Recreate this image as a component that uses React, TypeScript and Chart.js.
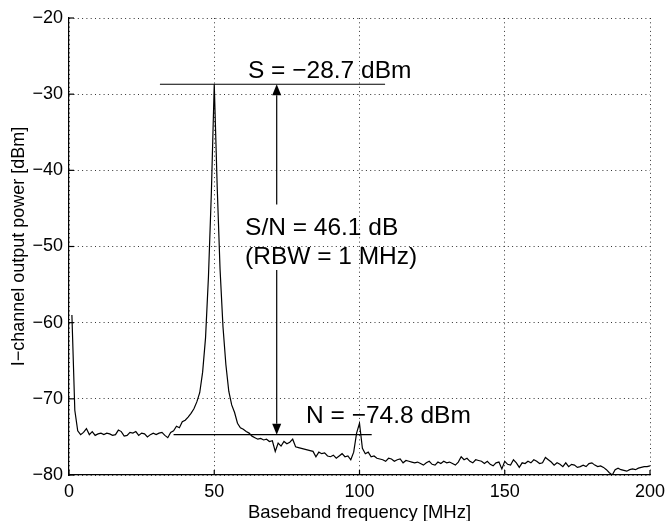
import React, { useEffect, useRef } from "react";
import { Chart, registerables } from "chart.js";

Chart.register(...registerables);

// Spectrum samples, one per MHz, starting at 1 MHz
const FREQ_START_MHZ = 1;
const FREQ_STEP_MHZ = 1;
const powerDbm: number[] = [
  -59.0, -71.5, -74.2, -74.7, -74.4, -73.9, -74.7, -74.3, -74.8, -74.6,
  -74.5, -74.7, -74.5, -74.6, -74.8, -74.7, -74.1, -74.3, -74.9, -74.8,
  -74.4, -74.5, -74.3, -74.8, -74.5, -74.6, -75.0, -74.7, -74.5, -74.7,
  -74.5, -74.4, -74.8, -75.1, -74.4, -74.2, -73.6, -73.8, -73.0, -72.8,
  -72.4, -71.9, -71.3, -70.4, -69.2, -66.5, -62.0, -54.0, -43.0, -28.7,
  -42.0, -53.0, -60.5, -65.5, -69.0, -70.8, -71.8, -73.2, -73.8, -74.0,
  -74.3, -74.5, -74.9, -75.1, -75.3, -75.2, -75.4, -75.3, -75.6, -75.5,
  -76.9, -75.8, -76.2, -75.6, -75.9, -75.7, -75.3, -76.3, -76.4, -76.5,
  -76.6, -76.7, -76.8, -76.9, -77.6, -77.0, -77.2, -77.1, -77.5, -77.6,
  -77.4, -77.8, -77.5, -77.2, -77.6, -77.5, -78.0, -77.0, -74.5, -73.2,
  -76.5, -77.2, -77.0, -77.6, -77.5, -77.8, -77.9, -78.0, -78.2, -77.8,
  -77.9, -78.2, -78.0, -77.9, -78.4, -78.1, -78.2, -78.3, -78.4, -78.3,
  -78.5, -78.7, -78.4, -78.2, -78.6, -78.7, -78.3, -78.5, -78.2, -78.4,
  -78.3, -78.5, -78.7, -78.3, -77.6, -78.0, -77.8, -78.2, -78.4, -78.0,
  -78.1, -78.2, -78.5, -78.2, -78.6, -78.8, -78.4, -78.3, -79.2, -78.2,
  -78.6, -78.7, -78.0, -78.4, -79.0, -78.4, -78.5, -78.2, -78.4, -78.0,
  -78.2, -78.5, -78.4, -77.7, -78.0, -78.3, -78.7, -78.4, -78.6, -78.9,
  -78.4, -78.9, -78.6, -78.7, -79.0, -78.9, -78.7, -78.9, -78.5, -78.4,
  -78.7, -78.9, -78.8, -79.0, -79.3, -79.7, -80.0, -79.3, -79.1, -79.3,
  -79.4, -79.5, -79.3, -79.2, -79.3, -79.1, -79.0, -78.9, -78.9, -78.8,
];

const xTicks = [0, 50, 100, 150, 200];
const yTicks = [-80, -70, -60, -50, -40, -30, -20];

// Annotation values (data units)
const signalDbm = -28.7;
const noiseLineDbm = -74.7;
const signalLineFreq = [31.3, 108.8];
const noiseLineFreq = [36, 104.2];
const arrowFreq = 71.5;
const arrowGapDbm = [-44.5, -53.1];
const sLabel = { text: "S = \u221228.7 dBm", x: 61.6, y: -27.9 };
const snLabel = { text: "S/N = 46.1 dB", x: 60.6, y: -48.5 };
const rbwLabel = { text: "(RBW = 1 MHz)", x: 60.6, y: -52.3 };
const nLabel = { text: "N = \u221274.8 dBm", x: 81.6, y: -73.15 };

const FONT = '"Liberation Sans", Arial, Helvetica, sans-serif';

const annotationPlugin = {
  id: "snAnnotations",
  afterDraw(chart: any) {
    const { ctx, scales, chartArea } = chart;
    const x = scales.x;
    const y = scales.y;
    ctx.save();
    ctx.strokeStyle = "#000";
    ctx.fillStyle = "#000";
    ctx.lineWidth = 1.2;
    ctx.setLineDash([]);

    // inward tick marks
    const tl = 5;
    for (const v of xTicks) {
      const px = x.getPixelForValue(v);
      ctx.beginPath();
      ctx.moveTo(px, chartArea.bottom);
      ctx.lineTo(px, chartArea.bottom - tl);
      ctx.stroke();
    }
    for (const v of yTicks) {
      const py = y.getPixelForValue(v);
      ctx.beginPath();
      ctx.moveTo(chartArea.left, py);
      ctx.lineTo(chartArea.left + tl, py);
      ctx.stroke();
    }

    const hline = (f0: number, f1: number, v: number) => {
      const py = y.getPixelForValue(v);
      ctx.beginPath();
      ctx.moveTo(x.getPixelForValue(f0), py);
      ctx.lineTo(x.getPixelForValue(f1), py);
      ctx.stroke();
    };
    hline(signalLineFreq[0], signalLineFreq[1], signalDbm);
    hline(noiseLineFreq[0], noiseLineFreq[1], noiseLineDbm);

    // arrow
    const ax = x.getPixelForValue(arrowFreq);
    const yS = y.getPixelForValue(signalDbm);
    const yN = y.getPixelForValue(noiseLineDbm);
    const g0 = y.getPixelForValue(arrowGapDbm[0]);
    const g1 = y.getPixelForValue(arrowGapDbm[1]);
    const headH = 11;
    const headW = 4.5;
    ctx.beginPath();
    ctx.moveTo(ax, yS + headH);
    ctx.lineTo(ax, g0);
    ctx.moveTo(ax, g1);
    ctx.lineTo(ax, yN - headH);
    ctx.stroke();
    ctx.beginPath();
    ctx.moveTo(ax, yS);
    ctx.lineTo(ax - headW, yS + headH);
    ctx.lineTo(ax + headW, yS + headH);
    ctx.closePath();
    ctx.fill();
    ctx.beginPath();
    ctx.moveTo(ax, yN);
    ctx.lineTo(ax - headW, yN - headH);
    ctx.lineTo(ax + headW, yN - headH);
    ctx.closePath();
    ctx.fill();

    // labels
    ctx.font = `24.5px ${FONT}`;
    ctx.textAlign = "left";
    ctx.textBaseline = "alphabetic";
    for (const l of [sLabel, snLabel, rbwLabel, nLabel]) {
      ctx.fillText(l.text, x.getPixelForValue(l.x), y.getPixelForValue(l.y));
    }
    ctx.restore();
  },
};

export default function App() {
  const canvasRef = useRef<HTMLCanvasElement | null>(null);

  useEffect(() => {
    const canvas = canvasRef.current;
    if (!canvas) return;
    const data = powerDbm.map((v, i) => ({
      x: FREQ_START_MHZ + i * FREQ_STEP_MHZ,
      y: v,
    }));
    const chart = new Chart(canvas, {
      type: "line",
      data: {
        datasets: [
          {
            data,
            borderColor: "#000",
            borderWidth: 1.2,
            pointRadius: 0,
            tension: 0,
            fill: false,
          },
        ],
      },
      plugins: [annotationPlugin],
      options: {
        animation: false,
        responsive: false,
        devicePixelRatio: 1,
        layout: { padding: { top: 18, right: 17, left: 0, bottom: 0 } },
        plugins: {
          legend: { display: false },
          tooltip: { enabled: false },
        },
        scales: {
          x: {
            type: "linear",
            min: 0,
            max: 200,
            afterBuildTicks: (s: any) => {
              s.ticks = xTicks.map((v) => ({ value: v }));
            },
            afterFit: (s: any) => {
              s.height = 46;
              s.paddingLeft = 0;
              s.paddingRight = 0;
            },
            ticks: {
              color: "#000",
              font: { family: FONT, size: 18 },
              padding: 6,
              maxRotation: 0,
              autoSkip: false,
            },
            grid: { color: "#333", lineWidth: 1, drawTicks: false },
            border: { display: true, color: "#000", width: 1.2, dash: [1, 3.3] },
            title: {
              display: true,
              text: "Baseband frequency [MHz]",
              color: "#000",
              font: { family: FONT, size: 18.5, lineHeight: 1 },
              padding: { top: 0, bottom: -1 },
            },
          },
          y: {
            type: "linear",
            min: -80,
            max: -20,
            afterBuildTicks: (s: any) => {
              s.ticks = yTicks.map((v) => ({ value: v }));
            },
            afterFit: (s: any) => {
              s.width = 69;
              s.paddingTop = 0;
              s.paddingBottom = 0;
            },
            ticks: {
              color: "#000",
              font: { family: FONT, size: 18 },
              padding: 6,
              callback: (v: any) => String(v).replace("-", "\u2212"),
            },
            grid: { color: "#333", lineWidth: 1, drawTicks: false },
            border: { display: true, color: "#000", width: 1.2, dash: [1, 3.3] },
            title: {
              display: true,
              text: "I\u2212channel output power [dBm]",
              color: "#000",
              font: { family: FONT, size: 18, lineHeight: 1 },
              padding: { top: 10, bottom: 0 },
            },
          },
        },
      },
    } as any);
    return () => chart.destroy();
  }, []);

  return (
    <div style={{ position: "absolute", left: 0, top: 0, width: 667, height: 521, background: "#fff" }}>
      <canvas ref={canvasRef} width={667} height={521} />
    </div>
  );
}
